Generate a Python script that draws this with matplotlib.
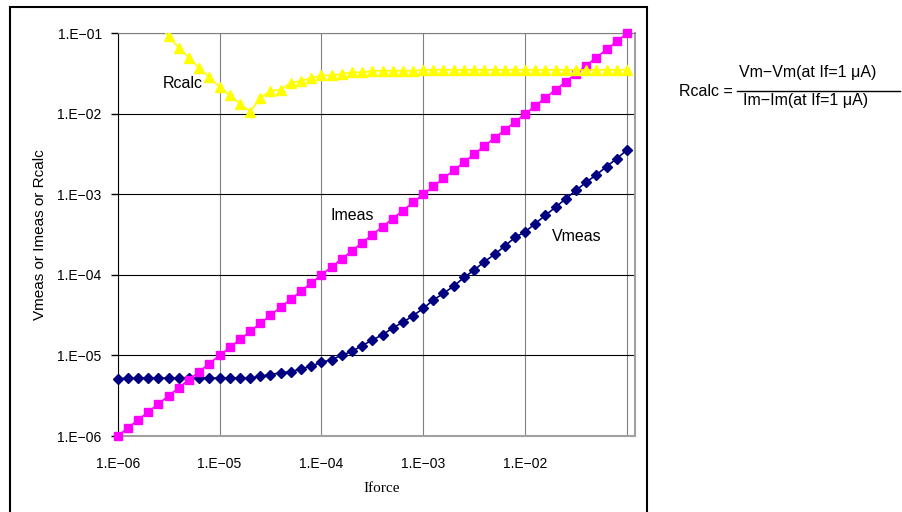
import matplotlib
matplotlib.use('Agg')
import matplotlib.pyplot as plt
from matplotlib.patches import Rectangle
from matplotlib.lines import Line2D
from matplotlib.ticker import NullLocator

# forced current, 10 points per decade (A)
iforce = [1.00e-6, 1.26e-6, 1.58e-6, 2.00e-6, 2.51e-6, 3.16e-6, 3.98e-6, 5.01e-6, 6.31e-6, 7.94e-6,
          1.00e-5, 1.26e-5, 1.58e-5, 2.00e-5, 2.51e-5, 3.16e-5, 3.98e-5, 5.01e-5, 6.31e-5, 7.94e-5,
          1.00e-4, 1.26e-4, 1.58e-4, 2.00e-4, 2.51e-4, 3.16e-4, 3.98e-4, 5.01e-4, 6.31e-4, 7.94e-4,
          1.00e-3, 1.26e-3, 1.58e-3, 2.00e-3, 2.51e-3, 3.16e-3, 3.98e-3, 5.01e-3, 6.31e-3, 7.94e-3,
          1.00e-2, 1.26e-2, 1.58e-2, 2.00e-2, 2.51e-2, 3.16e-2, 3.98e-2, 5.01e-2, 6.31e-2, 7.94e-2,
          1.00e-1]

# measured current
imeas = [1.00e-6, 1.26e-6, 1.58e-6, 2.00e-6, 2.51e-6, 3.16e-6, 3.98e-6, 5.01e-6, 6.31e-6, 7.94e-6,
         1.00e-5, 1.26e-5, 1.58e-5, 2.00e-5, 2.51e-5, 3.16e-5, 3.98e-5, 5.01e-5, 6.31e-5, 7.94e-5,
         1.00e-4, 1.26e-4, 1.58e-4, 2.00e-4, 2.51e-4, 3.16e-4, 3.98e-4, 5.01e-4, 6.31e-4, 7.94e-4,
         1.00e-3, 1.26e-3, 1.58e-3, 2.00e-3, 2.51e-3, 3.16e-3, 3.98e-3, 5.01e-3, 6.31e-3, 7.94e-3,
         1.00e-2, 1.26e-2, 1.58e-2, 2.00e-2, 2.51e-2, 3.16e-2, 3.98e-2, 5.01e-2, 6.31e-2, 7.94e-2,
         1.00e-1]

# measured voltage
vmeas = [5.10e-6, 5.25e-6, 5.25e-6, 5.25e-6, 5.25e-6, 5.25e-6, 5.25e-6, 5.25e-6, 5.25e-6, 5.25e-6,
         5.25e-6, 5.25e-6, 5.25e-6, 5.25e-6, 5.50e-6, 5.80e-6, 6.10e-6, 6.30e-6, 6.80e-6, 7.40e-6,
         8.20e-6, 8.90e-6, 1.00e-5, 1.13e-5, 1.32e-5, 1.56e-5, 1.80e-5, 2.20e-5, 2.58e-5, 3.12e-5,
         3.84e-5, 4.90e-5, 5.90e-5, 7.30e-5, 9.30e-5, 1.15e-4, 1.46e-4, 1.80e-4, 2.28e-4, 2.92e-4,
         3.43e-4, 4.35e-4, 5.50e-4, 6.97e-4, 8.85e-4, 1.12e-3, 1.42e-3, 1.75e-3, 2.22e-3, 2.78e-3,
         3.56e-3]

# Rcalc only from the 3rd point (first ones are off scale)
rcalc_if = iforce[2:]
rcalc = [0.5, 0.25, 0.13, 0.092, 0.066, 0.050, 0.037, 0.0286, 0.0215, 0.017,
         0.0134, 0.0107, 0.0159, 0.0192, 0.020, 0.0242, 0.0258, 0.0278, 0.030, 0.030,
         0.0312, 0.033, 0.0327, 0.0343, 0.0343, 0.0343, 0.0343, 0.0343, 0.0352, 0.0352,
         0.0352, 0.0352, 0.0352, 0.0352, 0.0352, 0.0352, 0.0352, 0.0352, 0.0352, 0.0352,
         0.0352, 0.0352, 0.0352, 0.0352, 0.0352, 0.0352, 0.0352, 0.0352, 0.0352]

xticks = [1e-6, 1e-5, 1e-4, 1e-3, 1e-2, 1e-1]
xlabels = ['1.E\u221206', '1.E\u221205', '1.E\u221204', '1.E\u221203', '1.E\u221202', '']
yticks = [1e-6, 1e-5, 1e-4, 1e-3, 1e-2, 1e-1]
ylabels = ['1.E\u221206', '1.E\u221205', '1.E\u221204', '1.E\u221203', '1.E\u221202', '1.E\u221201']

plt.rcParams['font.family'] = ['Liberation Sans', 'DejaVu Sans']

fig = plt.figure(figsize=(9.02, 5.12), dpi=100)
ax = fig.add_axes([0.1305, 0.1484, 0.5735, 0.7865])

ax.set_xscale('log')
ax.set_yscale('log')
ax.set_xlim(1e-6, 0.12)
ax.set_ylim(1e-6, 0.1)

# plot the 3 series
ax.plot(iforce, vmeas, color='#000080', marker='D', ms=5.5, lw=1.2, clip_on=False, zorder=3)
ax.plot(iforce, imeas, color='#FF00FF', marker='s', ms=6.2, lw=1.2, clip_on=False, zorder=4)
ax.plot(rcalc_if, rcalc, color='#FFFF00', marker='^', ms=7.5, lw=1.2, zorder=5)

ax.text(4.4e-6, 0.0237, 'Rcalc', fontsize=11.5, ha='center', va='center')
ax.text(2.0e-4, 5.4e-4, 'Imeas', fontsize=11.5, ha='center', va='center')
ax.text(3.2e-2, 2.97e-4, 'Vmeas', fontsize=11.5, ha='center', va='center')

ax.set_xticks(xticks)
ax.set_xticklabels(xlabels)
ax.set_yticks(yticks)
ax.set_yticklabels(ylabels)
ax.xaxis.set_minor_locator(NullLocator())
ax.yaxis.set_minor_locator(NullLocator())
ax.tick_params(axis='x', length=0, pad=15, labelsize=10)
ax.tick_params(axis='y', length=5, width=1, direction='out', pad=6.5, labelsize=10)

ax.set_axisbelow(True)
ax.grid(axis='y', color='black', lw=0.8)
ax.grid(axis='x', color='#808080', lw=0.8)

ax.spines['left'].set_color('black')
ax.spines['top'].set_color('#808080')
ax.spines['right'].set_color('#A0A0A0')
ax.spines['bottom'].set_color('#A0A0A0')
ax.spines['right'].set_linewidth(1.5)
ax.spines['bottom'].set_linewidth(1.5)

fig.text(40 / 902, 1 - 235 / 512, 'Vmeas or Imeas or Rcalc', rotation=90,
         ha='center', va='center', fontsize=11)
fig.text(382 / 902, 1 - 489 / 512, 'Iforce', ha='center', va='center',
         fontsize=11, family=['Liberation Serif', 'DejaVu Serif'])

# chart frame (bottom edge is outside the picture)
fig.add_artist(Rectangle((10 / 902, -0.1), 637 / 902, 1.1 - 7 / 512, fill=False,
                         edgecolor='black', lw=1.5, transform=fig.transFigure))

# Rcalc formula
fig.text(733 / 902, 1 - 91 / 512, 'Rcalc =', ha='right', va='center', fontsize=11.5)
fig.text(808 / 902, 1 - 73 / 512, 'Vm\u2212Vm(at If=1 \u03bcA)', ha='center', va='center', fontsize=11.5)
fig.text(806 / 902, 1 - 101 / 512, 'Im\u2212Im(at If=1 \u03bcA)', ha='center', va='center', fontsize=11.5)
fig.add_artist(Line2D([737 / 902, 900 / 902], [1 - 90.5 / 512, 1 - 90.5 / 512],
                      color='black', lw=1, transform=fig.transFigure))

fig.savefig('out.png', dpi=100)
